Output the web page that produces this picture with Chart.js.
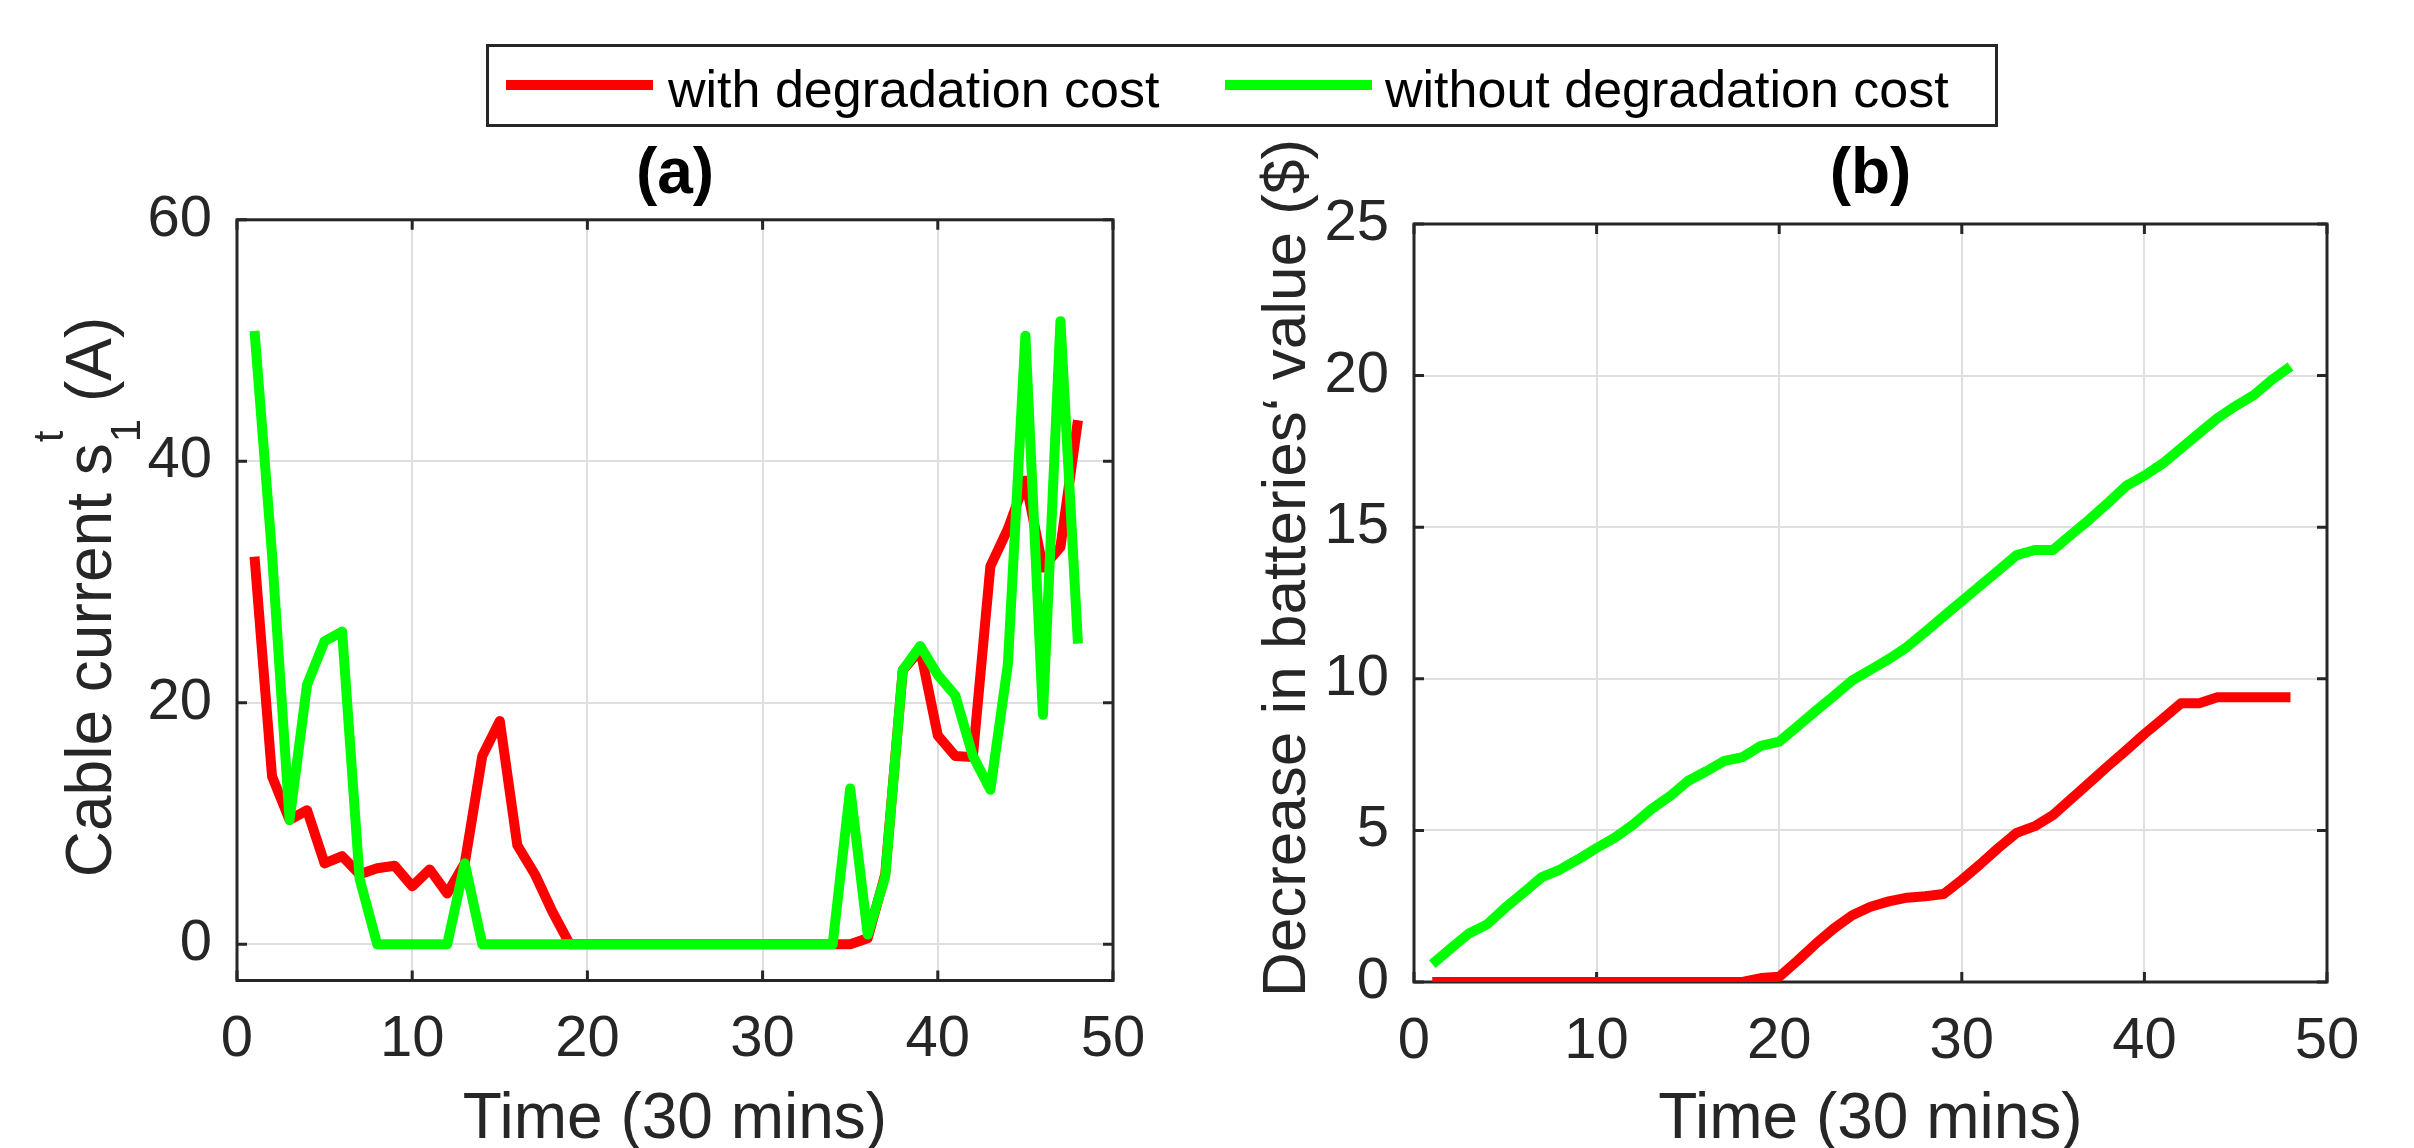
<!DOCTYPE html>
<html>
<head>
<meta charset="utf-8">
<script src="https://cdn.jsdelivr.net/npm/chart.js@4.4.1/dist/chart.umd.min.js"></script>
<style>
html,body{margin:0;padding:0;width:2414px;height:1148px;overflow:hidden;background:#fff;}
canvas{position:absolute;top:0;}
#cA{left:0;}
#cB{left:1207px;}
#legend{position:absolute;left:486px;top:44px;width:1506px;height:77px;border:3px solid #262626;background:#fff;z-index:5;
  font-family:"Liberation Sans",Arial,Helvetica,sans-serif;font-size:52px;line-height:52px;color:#000;}
#legend .ln{position:absolute;top:33px;width:147px;height:10px;}
#legend .tx{position:absolute;top:16px;white-space:nowrap;}
</style>
</head>
<body>
<canvas id="cA" width="1207" height="1200"></canvas>
<canvas id="cB" width="1207" height="1200"></canvas>
<div id="legend">
  <div class="ln" id="l0" style="left:17px;"></div><div class="tx" id="t0" style="left:179px;"></div>
  <div class="ln" id="l1" style="left:736px;"></div><div class="tx" id="t1" style="left:896px;"></div>
</div>
<script>
// ---------- data ----------
const time = [1,2,3,4,5,6,7,8,9,10,11,12,13,14,15,16,17,18,19,20,21,22,23,24,25,26,27,28,29,30,31,32,33,34,35,36,37,38,39,40,41,42,43,44,45,46,47,48];

// (a) cable current (A)
const cableWith = [32.1,13.9,10.3,11.1,6.7,7.3,5.8,6.3,6.5,4.8,6.2,4.2,6.7,15.6,18.5,8.2,5.8,2.7,0,
  0,0,0,0,0,0,0,0,0,0,0,0,0,0,0,0,
  0.5,5.8,22.7,24.4,17.3,15.6,15.5,31.3,34.4,38.4,31.2,32.9,43.4];
const cableWithout = [50.8,32.3,10.3,21.5,25.1,25.9,5.4,0,0,0,0,0,6.7,
  0,0,0,0,0,0,0,0,0,0,0,0,0,0,0,0,0,0,0,0,0,
  12.9,0.8,5.6,22.7,24.7,22.3,20.6,15.6,12.8,23.2,50.4,19.0,51.6,24.9];

// (b) decrease in batteries' value ($)
const costWith = [0,0,0,0,0,0,0,0,0,0,0,0,0,0,0,0,0,0,0.13,0.17,
  0.7,1.26,1.77,2.2,2.48,2.66,2.78,2.83,2.9,3.37,
  3.88,4.42,4.92,5.14,5.51,6.04,6.58,7.12,7.64,8.18,
  8.68,9.19,9.19,9.39,9.39,9.39,9.39,9.39];
const costWithout = [0.59,1.1,1.6,1.9,2.45,2.95,3.46,3.71,4.05,4.42,
  4.76,5.19,5.7,6.12,6.63,6.95,7.29,7.42,7.79,7.93,
  8.43,8.94,9.44,9.95,10.3,10.65,11.05,11.55,12.06,12.56,
  13.07,13.57,14.08,14.25,14.25,14.76,15.26,15.8,16.36,16.7,
  17.1,17.6,18.1,18.6,19.0,19.36,19.87,20.3];

const seriesNames = ['with degradation cost','without degradation cost'];
const seriesColors = ['#ff0000','#00ff00'];
const xTicks = [0,10,20,30,40,50];
const yTicksA = [0,20,40,60];
const yTicksB = [0,5,10,15,20,25];
const titles = ['(a)','(b)'];
const xTitle = 'Time (30 mins)';
const yTitleAParts = ['Cable current s','t','1',' (A)'];
const yTitleB = 'Decrease in batteries\u2018 value ($)';

// ---------- legend ----------
document.getElementById('l0').style.background = seriesColors[0];
document.getElementById('l1').style.background = seriesColors[1];
document.getElementById('t0').textContent = seriesNames[0];
document.getElementById('t1').textContent = seriesNames[1];

// ---------- helpers ----------
const FONT = '"Liberation Sans", Arial, Helvetica, sans-serif';
const AX = '#262626';
const GRID = '#dfdfdf';

const boxPlugin = {
  id: 'boxTicks',
  beforeDatasetsDraw(chart) {
    const ctx = chart.ctx, a = chart.chartArea, x = chart.scales.x, y = chart.scales.y;
    ctx.save();
    ctx.strokeStyle = AX; ctx.lineWidth = 3;
    ctx.strokeRect(a.left, a.top, a.right - a.left, a.bottom - a.top);
    const L = 10;
    ctx.beginPath();
    x.ticks.forEach(t => {
      const px = x.getPixelForValue(t.value);
      ctx.moveTo(px, a.bottom); ctx.lineTo(px, a.bottom - L);
      ctx.moveTo(px, a.top); ctx.lineTo(px, a.top + L);
    });
    y.ticks.forEach(t => {
      const py = y.getPixelForValue(t.value);
      ctx.moveTo(a.left, py); ctx.lineTo(a.left + L, py);
      ctx.moveTo(a.right, py); ctx.lineTo(a.right - L, py);
    });
    ctx.stroke();
    ctx.restore();
  }
};

// rotated y-axis label with optional stacked super/subscripts
// parts: {t, size, dy, stack, shift}  (stack: does not advance; next part shares its slot)
function makeYLabelPlugin(spec) {
  return {
    id: 'richYLabel',
    afterDraw(chart) {
      const ctx = chart.ctx;
      ctx.save();
      ctx.fillStyle = AX;
      ctx.textBaseline = 'alphabetic';
      ctx.textAlign = 'left';
      const pos = [];
      let x = 0, slotW = 0;
      spec.parts.forEach(p => {
        ctx.font = p.size + 'px ' + FONT;
        const w = ctx.measureText(p.t).width;
        pos.push(x);
        if (p.stack) { slotW = Math.max(slotW, w); }
        else if (slotW) { slotW = Math.max(slotW, w); x += slotW; slotW = 0; }
        else { x += w; }
      });
      const total = x;
      ctx.translate(spec.baselineX, spec.centerY);
      ctx.rotate(-Math.PI / 2);
      const x0 = -total / 2;
      spec.parts.forEach((p, i) => {
        ctx.font = p.size + 'px ' + FONT;
        ctx.fillText(p.t, x0 + pos[i] + (p.shift ? p.shift : 0), p.dy ? p.dy : 0);
      });
      ctx.restore();
    }
  };
}

function ds(label, color, ys, order) {
  return {
    label: label,
    data: time.map((t, i) => ({x: t, y: ys[i]})),
    borderColor: color, backgroundColor: color,
    borderWidth: 10, pointRadius: 0, tension: 0, fill: false,
    borderJoinStyle: 'round', borderCapStyle: 'butt', order: order
  };
}

function makeChart(id, opts) {
  const scaleTicks = arr => (s => { s.ticks = arr.map(v => ({value: v})); });
  return new Chart(document.getElementById(id), {
    type: 'line',
    data: { datasets: [
      ds(seriesNames[0], seriesColors[0], opts.red, 1),
      ds(seriesNames[1], seriesColors[1], opts.green, 0)
    ]},
    options: {
      responsive: false, animation: false, devicePixelRatio: 1,
      layout: { padding: { left: 0, right: opts.padRight, top: 137, bottom: 0 } },
      plugins: {
        legend: { display: false }, tooltip: { enabled: false },
        title: { display: true, text: opts.title, fullSize: false, color: '#000',
          font: { family: FONT, size: 64, weight: 'bold' }, padding: { top: 0, bottom: opts.titlePadBottom } }
      },
      scales: {
        x: {
          type: 'linear', min: 0, max: 50,
          afterBuildTicks: scaleTicks(xTicks),
          afterFit: s => { s.height = opts.xHeight; },
          grid: { color: GRID, lineWidth: 2, drawTicks: false },
          border: { display: false },
          ticks: { color: AX, font: { family: FONT, size: 58 }, padding: 25, maxRotation: 0, minRotation: 0, autoSkip: false },
          title: { display: true, text: xTitle, color: AX, font: { family: FONT, size: 64 }, padding: { top: 0, bottom: 41.6 } }
        },
        y: {
          type: 'linear', min: opts.yMin, max: opts.yMax,
          afterBuildTicks: scaleTicks(opts.yTicks),
          afterFit: s => { s.width = opts.yWidth; },
          grid: { color: GRID, lineWidth: 2, drawTicks: false },
          border: { display: false },
          ticks: { color: AX, font: { family: FONT, size: 58 }, padding: 25 },
          title: { display: false }
        }
      }
    },
    plugins: [boxPlugin, makeYLabelPlugin(opts.yLabel)]
  });
}

makeChart('cA', { red: cableWith, green: cableWithout, title: titles[0], padRight: 94, titlePadBottom: 6,
  xHeight: 219.5, yMin: -3, yMax: 60, yTicks: yTicksA, yWidth: 237,
  yLabel: { baselineX: 111, centerY: 597, parts: [
    { t: yTitleAParts[0], size: 64, dy: 0 },
    { t: yTitleAParts[1], size: 42, dy: -48, stack: true, shift: 1 },
    { t: yTitleAParts[2], size: 42, dy: 29, shift: 1 },
    { t: yTitleAParts[3], size: 64, dy: 0 }
  ]}});
makeChart('cB', { red: costWith, green: costWithout, title: titles[1], padRight: 87, titlePadBottom: 10.2,
  xHeight: 218, yMin: 0, yMax: 25, yTicks: yTicksB, yWidth: 207,
  yLabel: { baselineX: 98, centerY: 568, parts: [ { t: yTitleB, size: 62, dy: 0 } ] }});
</script>
</body>
</html>
